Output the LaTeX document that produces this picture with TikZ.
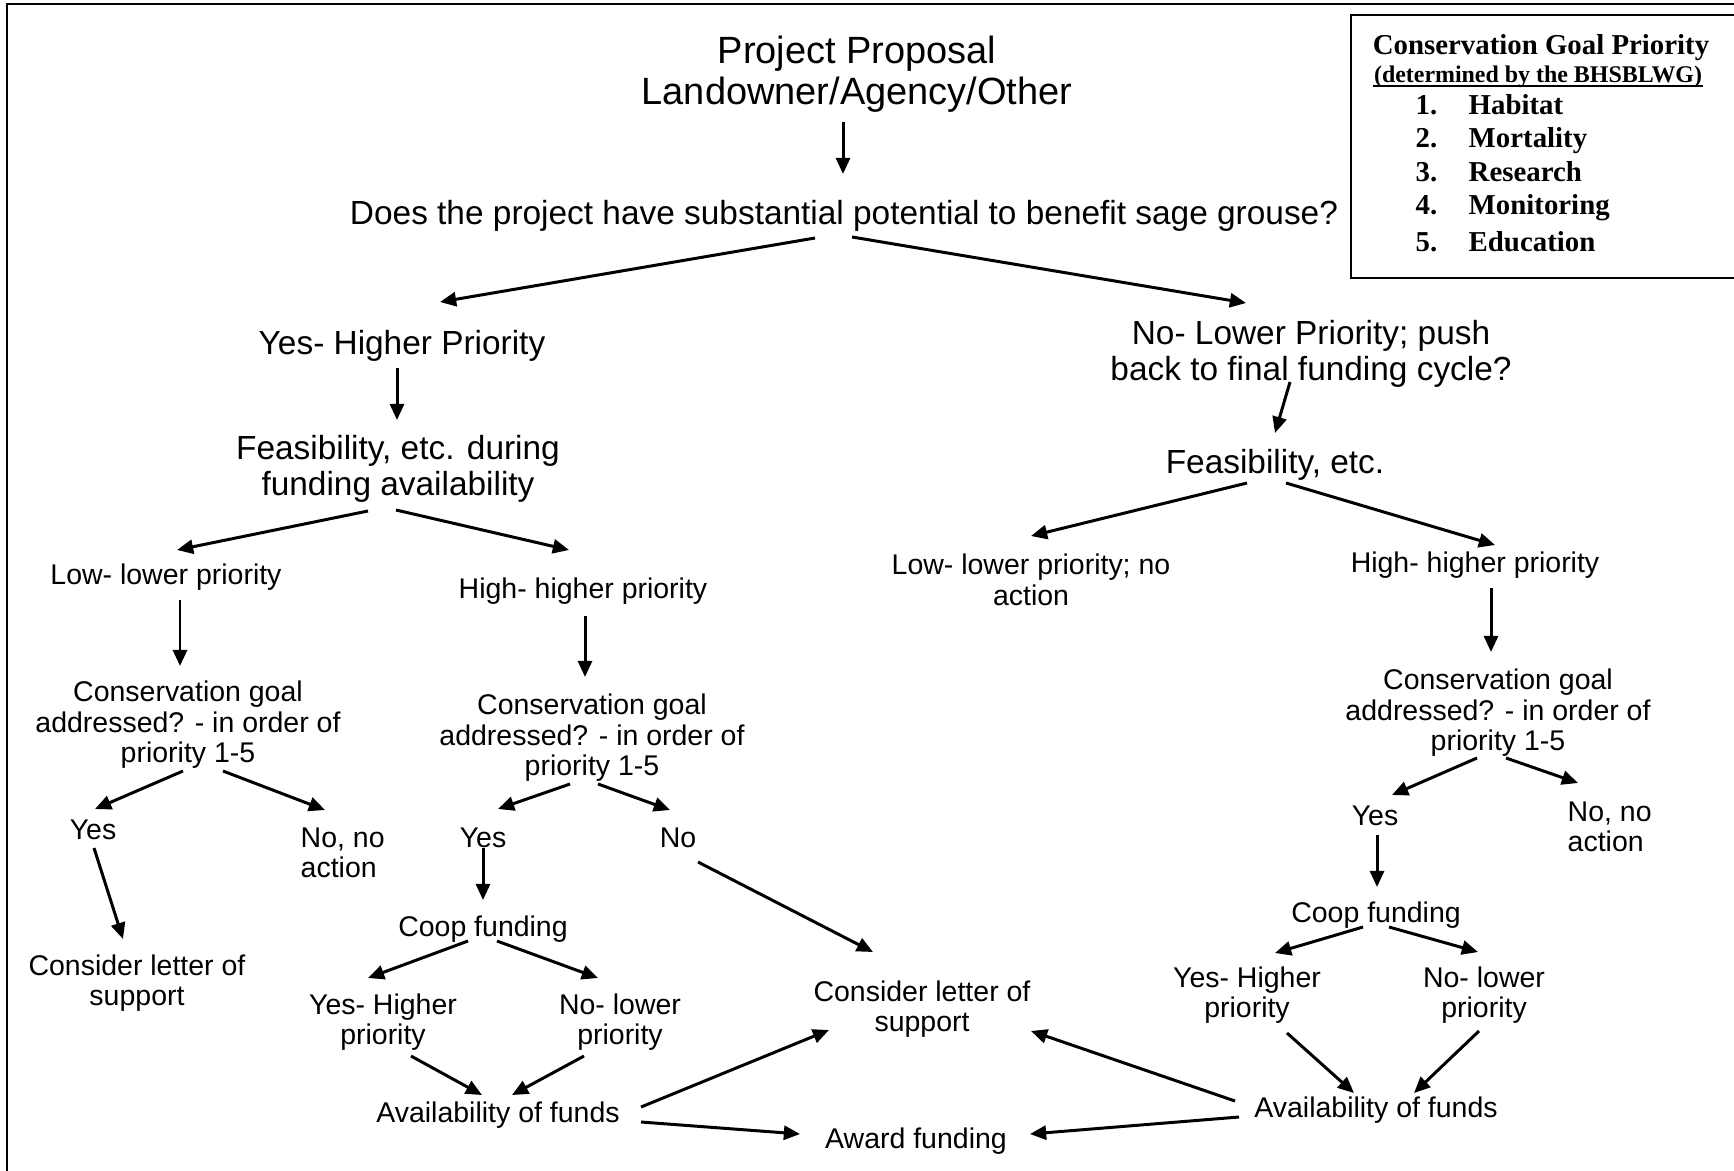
\documentclass[tikz,border=0pt]{standalone}
\usepackage{fontspec}
\setmainfont{Liberation Sans}
\newfontfamily\legendfont{Liberation Serif}
\usetikzlibrary{arrows.meta}
\begin{document}
\begin{tikzpicture}[x=0.01cm, y=-0.01cm, font=\fontsize{8.1}{8.7}\selectfont]
  \tikzstyle{smallnode}=[inner sep=0pt, align=center]
  \tikzstyle{bignode}=[inner sep=0pt, align=center, font=\fontsize{9.5}{10.3}\selectfont]
  \tikzstyle{topnode}=[inner sep=0pt, align=center, font=\fontsize{10.8}{11.7}\selectfont]
  \tikzstyle{legendnode}=[inner sep=0pt, font=\legendfont\bfseries\fontsize{8.2}{9}\selectfont]
  \tikzstyle{link}=[draw, line width=0.85pt, -{Triangle[length=4.6pt,width=4pt]}]
  \useasboundingbox (0,0) rectangle (1734,1170);
  \draw[line width=0.8pt] (7,1200) -- (7,4) -- (1760,4);
  % legend
  \draw[line width=0.7pt] (1351,15) rectangle (1760,278);
  \node[legendnode, anchor=base] (legtitle) at (1541,55) {Conservation Goal Priority};
  \node[legendnode, anchor=base, font=\legendfont\bfseries\fontsize{6.8}{8}\selectfont] (legsub) at (1538,83) {(determined by the BHSBLWG)};
  \draw[line width=0.5pt] ([yshift=-0.9pt]legsub.base west) -- ([yshift=-0.9pt]legsub.base east);
  \node[legendnode, anchor=base east] (num1) at (1438,115) {1.};
  \node[legendnode, anchor=base west] (goal1) at (1468,115) {Habitat};
  \node[legendnode, anchor=base east] (num2) at (1438,148) {2.};
  \node[legendnode, anchor=base west] (goal2) at (1468,148) {Mortality};
  \node[legendnode, anchor=base east] (num3) at (1438,182) {3.};
  \node[legendnode, anchor=base west] (goal3) at (1468,182) {Research};
  \node[legendnode, anchor=base east] (num4) at (1438,215) {4.};
  \node[legendnode, anchor=base west] (goal4) at (1468,215) {Monitoring};
  \node[legendnode, anchor=base east] (num5) at (1438,251) {5.};
  \node[legendnode, anchor=base west] (goal5) at (1468,251) {Education};
  % top of the chart
  \node[topnode] (prop) at (857,74) {Project Proposal\\Landowner/Agency/Other};
  \node[bignode] (q) at (844,216) {Does the project have substantial potential to benefit sage grouse?};
  \node[bignode] (yes1) at (402,346) {Yes- Higher Priority};
  \node[bignode] (no1) at (1311,354) {No- Lower Priority; push\\back to final funding cycle?};
  \node[bignode] (feas1) at (398,469) {Feasibility, etc. during\\funding availability};
  \node[bignode] (feas2) at (1275,465) {Feasibility, etc.};
  % second level
  \node[smallnode] (low1) at (166,577) {Low- lower priority};
  \node[smallnode] (high1) at (583,591) {High- higher priority};
  \node[smallnode] (low2) at (1031,580) {Low- lower priority; no\\action};
  \node[smallnode] (high2) at (1475,565) {High- higher priority};
  \node[smallnode] (cg1) at (188,725) {Conservation goal\\addressed? - in order of\\priority 1-5};
  \node[smallnode] (cg2) at (592,738) {Conservation goal\\addressed? - in order of\\priority 1-5};
  \node[smallnode] (cg3) at (1498,713) {Conservation goal\\addressed? - in order of\\priority 1-5};
  % left branch
  \node[smallnode] (yes1a) at (93,830) {Yes};
  \node[smallnode, align=left, anchor=west] (noact1) at (300,853) {No, no\\action};
  \node[smallnode] (letter1) at (137,983) {Consider letter of\\support};
  % middle branch
  \node[smallnode] (yes2) at (483,838) {Yes};
  \node[smallnode] (no2) at (678,838) {No};
  \node[smallnode] (coop2) at (483,929) {Coop funding};
  \node[smallnode] (yh2) at (383,1022) {Yes- Higher\\priority};
  \node[smallnode] (nl2) at (620,1022) {No- lower\\priority};
  \node[smallnode] (avail2) at (498,1115) {Availability of funds};
  \node[smallnode] (letter2) at (922,1009) {Consider letter of\\support};
  \node[smallnode] (award) at (916,1141) {Award funding};
  % right branch
  \node[smallnode] (yes3) at (1375,816) {Yes};
  \node[smallnode, align=left, anchor=west] (noact3) at (1567,827) {No, no\\action};
  \node[smallnode] (coop3) at (1376,915) {Coop funding};
  \node[smallnode] (yh3) at (1247,995) {Yes- Higher\\priority};
  \node[smallnode] (nl3) at (1484,995) {No- lower\\priority};
  \node[smallnode] (avail3) at (1376,1110) {Availability of funds};
  % arrows
  \draw[link] ([shift={(-14,48)}]prop.center) -- ([shift={(-1,-42)}]q.center);
  \draw[link] ([shift={(-29,22)}]q.center) -- ([shift={(38,-44)}]yes1.center);
  \draw[link] ([shift={(8,21)}]q.center) -- ([shift={(-65,-51)}]no1.center);
  \draw[link] ([shift={(-5,22)}]yes1.center) -- ([shift={(-1,-49)}]feas1.center);
  \draw[link] ([shift={(-21,28)}]no1.center) -- ([shift={(0,-32)}]feas2.center);
  \draw[link] ([shift={(-30,42)}]feas1.center) -- ([shift={(11,-27)}]low1.center);
  \draw[link] ([shift={(-2,41)}]feas1.center) -- ([shift={(-14,-41)}]high1.center);
  \draw[link] ([shift={(-28,18)}]feas2.center) -- ([shift={(0,-44)}]low2.center);
  \draw[link] ([shift={(11,18)}]feas2.center) -- ([shift={(20,-20)}]high2.center);
  \draw[link] ([shift={(14,23)}]low1.center) -- ([shift={(-8,-59)}]cg1.center);
  \draw[link] ([shift={(2,25)}]high1.center) -- ([shift={(-7,-61)}]cg2.center);
  \draw[link] ([shift={(16,23)}]high2.center) -- ([shift={(-7,-61)}]cg3.center);
  \draw[link] ([shift={(-5,46)}]cg1.center) -- ([shift={(2,-21)}]yes1a.center);
  \draw[link] ([shift={(35,46)}]cg1.center) -- ([shift={(25,-43)}]noact1.west);
  \draw[link] ([shift={(1,18)}]yes1a.center) -- ([shift={(-14,-44)}]letter1.center);
  \draw[link] ([shift={(-22,46)}]cg2.center) -- ([shift={(15,-29)}]yes2.center);
  \draw[link] ([shift={(6,46)}]cg2.center) -- ([shift={(-8,-28)}]no2.center);
  \draw[link] ([shift={(0,10)}]yes2.center) -- ([shift={(0,-29)}]coop2.center);
  \draw[link] ([shift={(20,24)}]no2.center) -- ([shift={(-49,-57)}]letter2.center);
  \draw[link] ([shift={(-15,12)}]coop2.center) -- ([shift={(-15,-44)}]yh2.center);
  \draw[link] ([shift={(14,12)}]coop2.center) -- ([shift={(-22,-44)}]nl2.center);
  \draw[link] ([shift={(28,34)}]yh2.center) -- ([shift={(-16,-20)}]avail2.center);
  \draw[link] ([shift={(-36,34)}]nl2.center) -- ([shift={(14,-20)}]avail2.center);
  \draw[link] ([shift={(143,-8)}]avail2.center) -- ([shift={(-93,21)}]letter2.center);
  \draw[link] ([shift={(143,7)}]avail2.center) -- ([shift={(-116,-7)}]award.center);
  \draw[link] ([shift={(-21,45)}]cg3.center) -- ([shift={(17,-21)}]yes3.center);
  \draw[link] ([shift={(8,45)}]cg3.center) -- ([shift={(11,-44)}]noact3.west);
  \draw[link] ([shift={(2,19)}]yes3.center) -- ([shift={(1,-28)}]coop3.center);
  \draw[link] ([shift={(-13,12)}]coop3.center) -- ([shift={(28,-42)}]yh3.center);
  \draw[link] ([shift={(13,12)}]coop3.center) -- ([shift={(-6,-43)}]nl3.center);
  \draw[link] ([shift={(40,38)}]yh3.center) -- ([shift={(-22,-17)}]avail3.center);
  \draw[link] ([shift={(-5,36)}]nl3.center) -- ([shift={(38,-17)}]avail3.center);
  \draw[link] ([shift={(-141,-9)}]avail3.center) -- ([shift={(109,22)}]letter2.center);
  \draw[link] ([shift={(-137,7)}]avail3.center) -- ([shift={(114,-7)}]award.center);
\end{tikzpicture}
\end{document}
